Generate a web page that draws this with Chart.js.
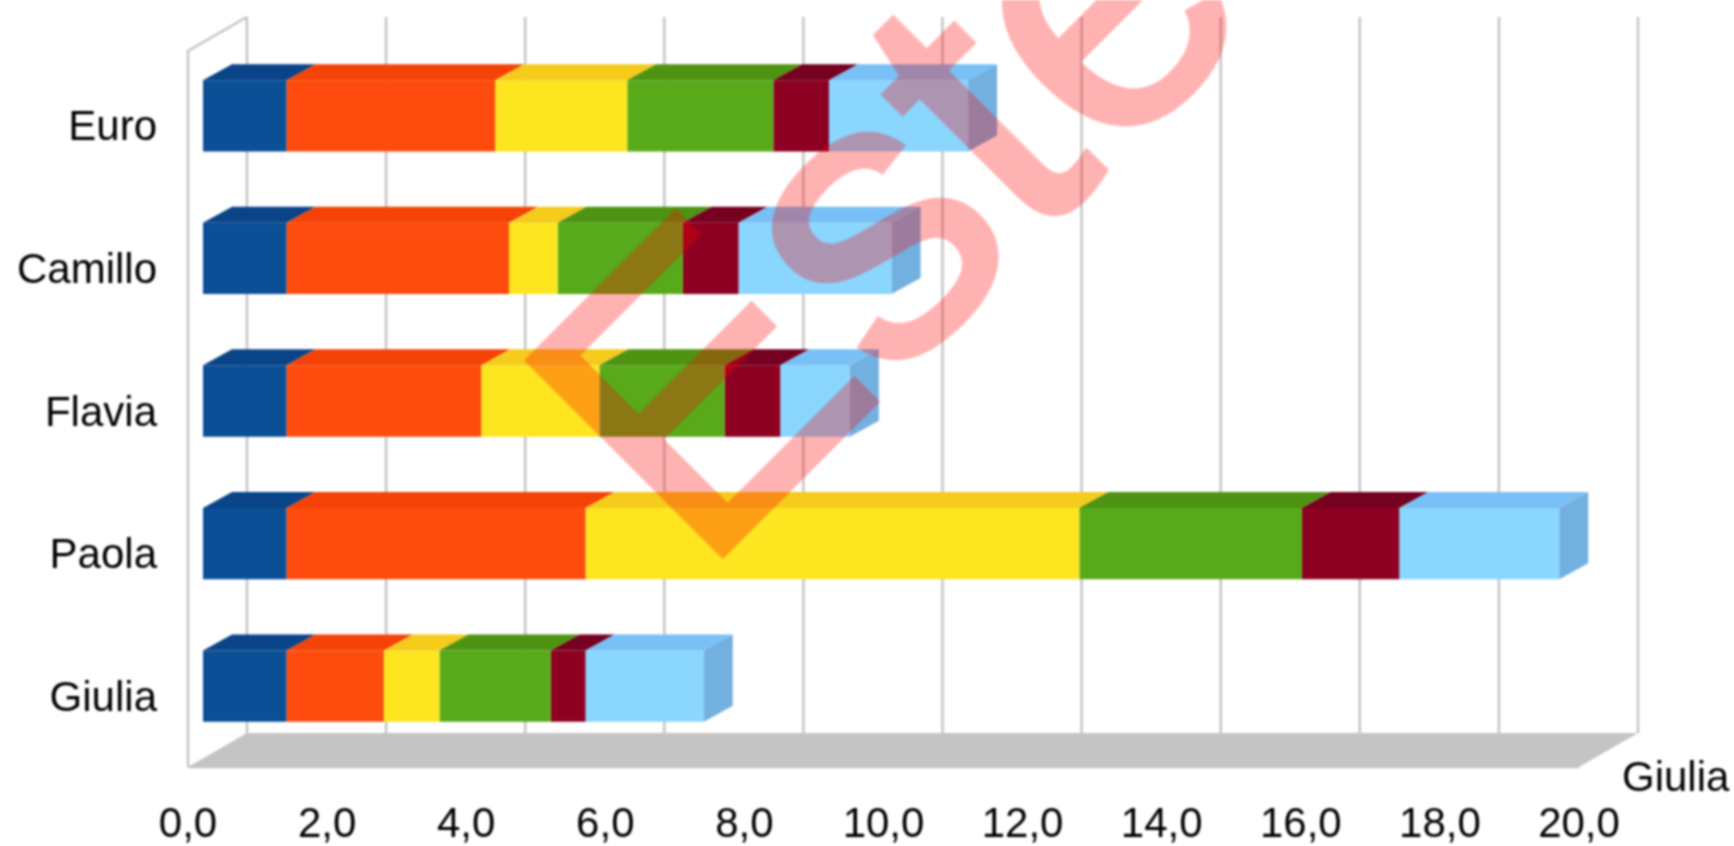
<!DOCTYPE html>
<html>
<head>
<meta charset="utf-8">
<style>
  html, body { margin: 0; padding: 0; background: #fff; overflow: hidden; }
  #wrap { position: relative; width: 1734px; height: 846px; overflow: hidden; filter: blur(0.8px); }
  #stamp {
    position: absolute; left: 700px; top: 440.4px;
    font: 400px/0 "Liberation Sans";
    white-space: nowrap;
    color: #f00;
    -webkit-text-stroke: 6px #f00;
    opacity: 0.3;
    transform-origin: 0 138.6px;
    transform: rotate(-45deg);
  }
</style>
<script src="https://cdn.jsdelivr.net/npm/chart.js@4/dist/chart.umd.min.js"></script>
</head>
<body>
<div id="wrap">
  <canvas id="chart" width="1734" height="846"></canvas>
  <div id="stamp">Este</div>
</div>
<script>
"use strict";

const names = ["Euro", "Camillo", "Flavia", "Paola", "Giulia"];
const xTicks = ["0,0", "2,0", "4,0", "6,0", "8,0", "10,0", "12,0", "14,0", "16,0", "18,0", "20,0"];

// stacked segments, one array per colour, same order as names
const serie1 = [1.2, 1.2, 1.2, 1.2, 1.2];
const serie2 = [3.0, 3.2, 2.8, 4.3, 1.4];
const serie3 = [1.9, 0.7, 1.7, 7.1, 0.8];
const serie4 = [2.1, 1.8, 1.8, 3.2, 1.6];
const serie5 = [0.8, 0.8, 0.8, 1.4, 0.5];
const serie6 = [2.0, 2.2, 1.0, 2.3, 1.7];

const frontColors = ["#0b4f97", "#fd4c0d", "#fde51f", "#58aa1a", "#8e0022", "#8ad6ff"];
const topColors = ["#0a4488", "#f54207", "#f5cb1c", "#4e9412", "#760020", "#78c0f5"];
const sideColor = "#72b0e0";

const FONT = "Liberation Sans";
const gridColor = "#c4c4c4";

// 3d look: how far the box goes back, and where the bars sit between front and wall
const DEPTH_X = 29, DEPTH_Y = 16;
const WALL_X = 59, WALL_Y = 34;
const BAR_SHIFT_X = 15, BAR_SHIFT_Y = -13;

const box3d = {
  id: "box3d",
  beforeDatasetsDraw(chart) {
    const { ctx, chartArea: a, scales: { x } } = chart;
    const floorY = a.bottom - 3.5;

    ctx.save();
    // floor
    ctx.fillStyle = "#c4c4c4";
    ctx.beginPath();
    ctx.moveTo(x.getPixelForValue(0), floorY);
    ctx.lineTo(x.getPixelForValue(20), floorY);
    ctx.lineTo(x.getPixelForValue(20) + WALL_X, floorY - WALL_Y);
    ctx.lineTo(x.getPixelForValue(0) + WALL_X, floorY - WALL_Y);
    ctx.closePath();
    ctx.fill();

    // back wall lines
    ctx.strokeStyle = gridColor;
    ctx.lineWidth = 2.5;
    for (let v = 0; v <= 20; v += 2) {
      const px = x.getPixelForValue(v) + WALL_X;
      ctx.beginPath();
      ctx.moveTo(px, 17);
      ctx.lineTo(px, floorY - WALL_Y);
      ctx.stroke();
    }

    // left side wall
    const x0 = x.getPixelForValue(0);
    ctx.beginPath();
    ctx.moveTo(x0, floorY);
    ctx.lineTo(x0, 17 + WALL_Y);
    ctx.lineTo(x0 + WALL_X, 17);
    ctx.moveTo(x0, floorY);
    ctx.lineTo(x.getPixelForValue(20), floorY);
    ctx.stroke();
    ctx.restore();

    ctx.save();
    ctx.translate(BAR_SHIFT_X, BAR_SHIFT_Y);
  },
  afterDatasetsDraw(chart) {
    const { ctx } = chart;
    const last = chart.data.datasets.length - 1;
    chart.data.datasets.forEach((ds, i) => {
      chart.getDatasetMeta(i).data.forEach(bar => {
        const top = bar.y - bar.height / 2;
        const bottom = bar.y + bar.height / 2;
        ctx.fillStyle = topColors[i];
        ctx.beginPath();
        ctx.moveTo(bar.base, top);
        ctx.lineTo(bar.base + DEPTH_X, top - DEPTH_Y);
        ctx.lineTo(bar.x + DEPTH_X, top - DEPTH_Y);
        ctx.lineTo(bar.x, top);
        ctx.closePath();
        ctx.fill();
        if (i === last) {
          ctx.fillStyle = sideColor;
          ctx.beginPath();
          ctx.moveTo(bar.x, top);
          ctx.lineTo(bar.x + DEPTH_X, top - DEPTH_Y);
          ctx.lineTo(bar.x + DEPTH_X, bottom - DEPTH_Y);
          ctx.lineTo(bar.x, bottom);
          ctx.closePath();
          ctx.fill();
        }
      });
    });
    ctx.restore();
  },
  afterDraw(chart) {
    const { ctx } = chart;
    ctx.save();
    ctx.font = `42px "${FONT}"`;
    ctx.fillStyle = "#000";
    ctx.textBaseline = "middle";
    ctx.fillText("Giulia", 1622, 779);
    ctx.restore();
  },
};

const series = [serie1, serie2, serie3, serie4, serie5, serie6];

new Chart(document.getElementById("chart"), {
  type: "bar",
  plugins: [box3d],
  data: {
    labels: names,
    datasets: series.map((data, i) => ({
      label: "Serie " + (i + 1),
      data,
      backgroundColor: frontColors[i],
      borderWidth: 0,
      clip: false,
      barPercentage: 0.5,
      categoryPercentage: 1,
    })),
  },
  options: {
    indexAxis: "y",
    responsive: false,
    animation: false,
    layout: { padding: { top: 57.5, right: 155 } },
    plugins: {
      legend: { display: false },
      tooltip: { enabled: false },
    },
    scales: {
      x: {
        stacked: true,
        min: 0,
        max: 20,
        afterFit(s) { s.height = 75.5; },
        grid: { display: false },
        border: { display: false },
        ticks: {
          stepSize: 2,
          autoSkip: false,
          maxRotation: 0,
          padding: 22,
          color: "#000",
          font: { family: FONT, size: 42 },
          callback: (v, i) => xTicks[i],
        },
      },
      y: {
        stacked: true,
        afterFit(s) { s.width = 188; },
        grid: { display: false },
        border: { display: false },
        ticks: {
          padding: 23,
          color: "#000",
          font: { family: FONT, size: 42 },
        },
      },
    },
  },
});
</script>
</body>
</html>
